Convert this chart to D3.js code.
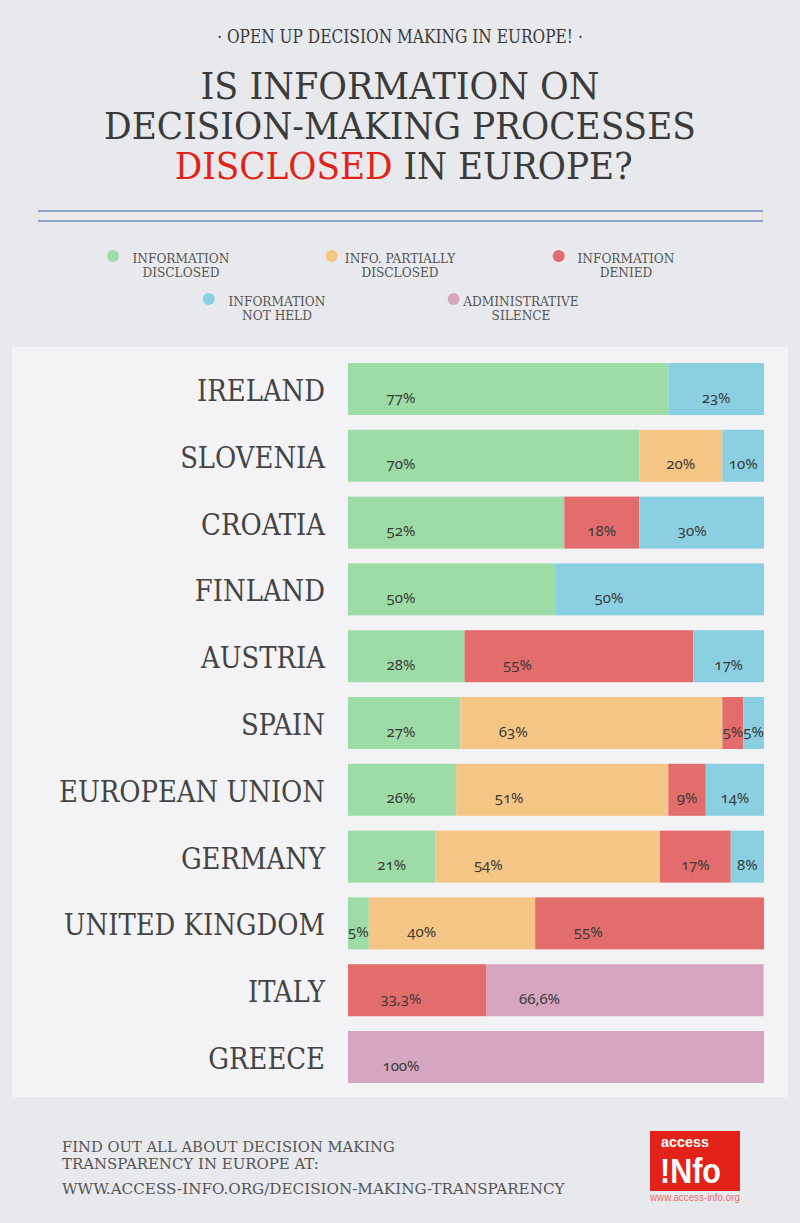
<!DOCTYPE html>
<html><head><meta charset="utf-8">
<script src="https://cdn.jsdelivr.net/npm/d3@7"></script>
<style>
html,body{margin:0;padding:0;background:#e8e9ec;}
svg{display:block;}
.serif{font-family:"DejaVu Serif Condensed","DejaVu Serif",serif;font-stretch:condensed;}
.pct{font-family:"Noto Sans","Open Sans",sans-serif;font-feature-settings:"onum" 1;font-variant-numeric:oldstyle-nums;}
.logo{font-family:"Liberation Sans Narrow","Liberation Sans",sans-serif;}
</style></head>
<body>
<script>
// ---- data ----
const countries = ["IRELAND","SLOVENIA","CROATIA","FINLAND","AUSTRIA","SPAIN","EUROPEAN UNION","GERMANY","UNITED KINGDOM","ITALY","GREECE"];
const disclosed = [77,70,52,50,28,27,26,21,5,0,0];
const partial   = [0,20,0,0,0,63,51,54,40,0,0];
const denied    = [0,0,18,0,55,5,9,17,55,33.3,0];
const notHeld   = [23,10,30,50,17,5,14,8,0,0,0];
const silence   = [0,0,0,0,0,0,0,0,0,66.6,100];
const seriesNames = [["INFORMATION","DISCLOSED"],["INFO. PARTIALLY","DISCLOSED"],["INFORMATION","DENIED"],["INFORMATION","NOT HELD"],["ADMINISTRATIVE","SILENCE"]];
const seriesKeys = ["disclosed","partial","denied","notHeld","silence"];
const colors = ["#9ddca6","#f5c585","#e26d6c","#8bd0e2","#d6a5bf"];

const W=800,H=1223;
const svg=d3.select("body").append("svg").attr("width",W).attr("height",H);
svg.append("rect").attr("width",W).attr("height",H).attr("fill","#e8e9ec");

function placeText(parent, x, y, str, cls, size, fill, anchor, targetW, weight){
  const g=parent.append("g");
  const t=g.append("text").attr("class",cls).attr("font-size",size).attr("fill",fill)
    .attr("text-anchor",anchor||"middle").text(str);
  if(weight) t.attr("font-weight",weight);
  let s=1;
  if(targetW){ s=targetW/t.node().getComputedTextLength(); }
  g.attr("transform",`translate(${x},${y}) scale(${s},1)`);
  return t;
}

// ---- header ----
placeText(svg,400,43,"· OPEN UP DECISION MAKING IN EUROPE! ·","serif",18,"#3b3b3b","middle",366);
placeText(svg,400,99,"IS INFORMATION ON","serif",38,"#3b3b3b","middle",399);
placeText(svg,400,139,"DECISION-MAKING PROCESSES","serif",38,"#3b3b3b","middle",592);
{
  const g=svg.append("g");
  const t=g.append("text").attr("class","serif").attr("font-size",38).attr("text-anchor","middle");
  t.append("tspan").attr("fill","#e2231a").text("DISCLOSED");
  t.append("tspan").attr("fill","#3b3b3b").text(" IN EUROPE?");
  const s=458/t.node().getComputedTextLength();
  g.attr("transform",`translate(403.6,179) scale(${s},1)`);
}
svg.append("line").attr("x1",38).attr("x2",763).attr("y1",211).attr("y2",211).attr("stroke","#8ea3c2").attr("stroke-width",2);
svg.append("line").attr("x1",38).attr("x2",763).attr("y1",221).attr("y2",221).attr("stroke","#8ea3c2").attr("stroke-width",2);

// ---- legend ----
const legendLayout=[{cx:113,tx:181,y:256},{cx:331.6,tx:400,y:256},{cx:558.7,tx:626,y:256},{cx:208.7,tx:277,y:299},{cx:453.6,tx:521,y:299}];
seriesNames.forEach((lines,i)=>{
  const L=legendLayout[i];
  svg.append("circle").attr("cx",L.cx).attr("cy",L.y).attr("r",6).attr("fill",colors[i]);
  lines.forEach((ln,j)=>{
    placeText(svg,L.tx,L.y+7+j*14,ln,"serif",13.5,"#555","middle",null);
  });
});

// ---- panel ----
svg.append("rect").attr("x",12).attr("y",347).attr("width",776).attr("height",750).attr("fill","#f3f3f5");

const rows=countries.map((c,i)=>({country:c,disclosed:disclosed[i],partial:partial[i],denied:denied[i],notHeld:notHeld[i],silence:silence[i]}));
const stack=d3.stack().keys(seriesKeys)(rows);
const x=d3.scaleLinear().domain([0,100]).range([348,764]);
const y=d3.scaleBand().domain(countries).range([363,1083]).paddingInner(0.2216).paddingOuter(0);

const color=d3.scaleOrdinal().domain(seriesKeys).range(colors);
stack.forEach(layer=>{
  const g=svg.append("g").attr("fill",color(layer.key));
  layer.forEach((d,i)=>{
    const v=d[1]-d[0];
    if(v<=0) return;
    g.append("rect").attr("x",x(d[0])).attr("y",y(countries[i]))
      .attr("width",x(d[1])-x(d[0])).attr("height",y.bandwidth());
  });
});
// percentage labels
stack.forEach(layer=>{
  layer.forEach((d,i)=>{
    const v=d[1]-d[0];
    if(v<=0) return;
    const x0=x(d[0]),w=x(d[1])-x(d[0]);
    const lx=x0+Math.min(w/2,53);
    const val=rows[i][layer.key];
    svg.append("text").attr("class","pct").attr("x",lx).attr("y",y(countries[i])+y.bandwidth()*0.76)
      .attr("text-anchor","middle").attr("font-size",15).attr("fill","#3a3a3a")
      .text(String(val).replace(".",",")+"%");
  });
});
// country labels
{
  const probe=svg.append("text").attr("class","serif").attr("font-size",30).text("IRELAND");
  const s=128/probe.node().getComputedTextLength();
  probe.remove();
  countries.forEach(c=>{
    const g=svg.append("g").attr("transform",`translate(325,${y(c)+y.bandwidth()/2+12}) scale(${s},1)`);
    g.append("text").attr("class","serif").attr("font-size",30).attr("fill","#444").attr("text-anchor","end").text(c);
  });
}

// ---- footer ----
placeText(svg,62,1152,"FIND OUT ALL ABOUT DECISION MAKING","serif",14,"#555","start",333);
placeText(svg,62,1169,"TRANSPARENCY IN EUROPE AT:","serif",14,"#555","start",257);
placeText(svg,62,1194,"WWW.ACCESS-INFO.ORG/DECISION-MAKING-TRANSPARENCY","serif",15,"#555","start",503);

// logo
svg.append("rect").attr("x",650).attr("y",1131).attr("width",90).attr("height",60).attr("fill","#e3221a");
placeText(svg,661,1147,"access","logo",15,"#fff","start",48,"bold");
placeText(svg,660,1183,"!Nfo","logo",36,"#fff","start",61,"bold");
placeText(svg,650,1201,"www.access-info.org","logo",10,"#e86a66","start",90);
</script>
</body></html>
